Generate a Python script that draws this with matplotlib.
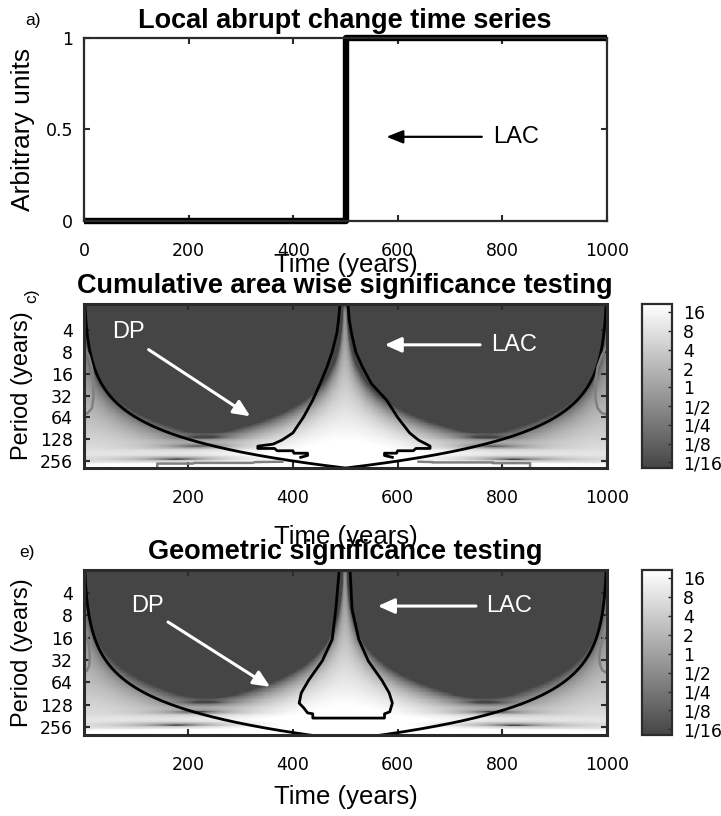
import numpy as np
import matplotlib.pyplot as plt
from matplotlib.colors import LinearSegmentedColormap
from matplotlib.ticker import NullLocator

# local abrupt change series
step_years = [0, 500, 500, 1000]
step_values = [0, 0, 1, 1]
n_years = 1000

time_ticks = [200, 400, 600, 800, 1000]
period_ticks = [4, 8, 16, 32, 64, 128, 256]
cbar_levels = [-4, -3, -2, -1, 0, 1, 2, 3, 4]
cbar_labels = ['1/16', '1/8', '1/4', '1/2', '1', '2', '4', '8', '16']

# cone of influence: period reached per year of distance from the ends
coi_ratio_c = 0.64
coi_ratio_e = 0.76

# significance contours, cumulative area wise test
sig_c_left_time = [490, 487, 484, 475, 465, 452, 438, 420, 400, 379, 362, 333, 333, 365, 370, 400, 402, 428, 428, 415]
sig_c_left_period = [1.7, 3, 4.4, 8, 13, 22, 37, 64, 105, 132, 150, 160, 172, 172, 185, 185, 200, 200, 215, 228]
sig_c_right_time = [505, 508, 512, 520, 533, 550, 579, 600, 623, 640, 655, 662, 662, 635, 630, 600, 598, 575, 575, 590]
sig_c_right_period = [1.7, 3, 4.4, 8, 13, 22, 37, 64, 105, 132, 150, 160, 172, 172, 185, 185, 200, 200, 215, 228]

# significance contour, geometric test
sig_e_time = [489, 482, 475, 456, 430, 416, 412, 421, 428, 438, 438, 575, 575, 585, 590, 584, 570, 544, 526, 513, 509]
sig_e_period = [1.8, 6.6, 17, 33, 60, 89, 122, 142, 165, 170, 194, 194, 170, 160, 122, 89, 60, 33, 17, 6.6, 1.8]

# pointwise contours (grey)
edge_l_time = [2, 10, 16, 19, 19, 16, 8, 2]
edge_r_time = [998, 990, 982, 978, 978, 982, 990, 998]
edge_period = [7, 9, 13, 20, 35, 48, 56, 58]
edge_e_l_time = [2, 8, 11, 12, 11, 7, 2]
edge_e_r_time = [998, 992, 987, 985, 987, 991, 998]
edge_e_period = [14, 17, 22, 30, 38, 44, 47]
base_l_time = [141, 141, 209, 212, 323, 328, 380]
base_l_period = [330, 278, 278, 272, 272, 265, 262]
base_r_time = [640, 667, 667, 782, 782, 853, 853]
base_r_period = [262, 265, 268, 268, 274, 274, 330]

# morlet wavelet power of the series
years = np.arange(1, n_years + 1)
series = np.interp(years, step_years[1:3], step_values[1:3]).round()
x = series - series.mean()
npad = 2048
xp = np.zeros(npad)
xp[:n_years] = x
k = 2 * np.pi * np.fft.fftfreq(npad)
fx = np.fft.fft(xp)
w0 = 6.0
fourier_factor = 4 * np.pi / (w0 + np.sqrt(2 + w0 ** 2))
periods = np.geomspace(1.6, 340, 220)
power = np.empty((len(periods), n_years))
for i, p in enumerate(periods):
    s = p / fourier_factor
    psi = np.sqrt(2 * np.pi * s) * np.pi ** -0.25 * np.exp(-0.5 * (s * k - w0) ** 2) * (k > 0)
    power[i] = np.abs(np.fft.ifft(fx * psi)[:n_years]) ** 2
gain = 2.5
field = np.log2(power / x.var() * gain + 1e-12)
edge_dist = np.minimum(years, n_years - years + 1)

cmap = LinearSegmentedColormap.from_list('greys', ['#454545', '#ffffff'])
vmin, vmax = -4.3, 4.45

plt.rcParams['font.family'] = ['Liberation Sans', 'DejaVu Sans']
tick_font = dict(family='DejaVu Sans', size=12.5)
edge = '#2b2b2b'

fig = plt.figure(figsize=(7.21, 8.16), dpi=100)
W, H = 721, 816


def box(l, t, r, b):
    return [l / W, 1 - b / H, (r - l) / W, (b - t) / H]


def style(ax, lw):
    for sp in ax.spines.values():
        sp.set_linewidth(lw)
        sp.set_color(edge)
    ax.tick_params(direction='in', length=4, width=1.5, color=edge,
                   top=True, right=True, pad=8)
    for lab in ax.get_xticklabels() + ax.get_yticklabels():
        lab.set_fontfamily(tick_font['family'])
        lab.set_fontsize(tick_font['size'])
    ax.tick_params(axis='x', pad=15)


# a) time series
ax = fig.add_axes(box(84, 38, 607, 221))
ax.plot(step_years, step_values, color='black', lw=4.6, clip_on=False, solid_capstyle='butt')
ax.set_xlim(0, 1000)
ax.set_ylim(0, 1)
ax.set_xticks([0, 200, 400, 600, 800, 1000])
ax.set_yticks([0, 0.5, 1])
ax.set_yticklabels(['0', '0.5', '1'])
style(ax, 1.6)
ax.annotate('', xy=(573, 0.46), xytext=(766, 0.46),
            arrowprops=dict(arrowstyle='-|>,head_length=1.0,head_width=0.4', color='black', lw=1.6))
ax.text(782, 0.46, 'LAC', fontsize=17, va='center', ha='left')
ax.set_ylabel('Arbitrary units', fontsize=19)
ax.yaxis.set_label_coords(-0.094, 0.5)
ax.set_xlabel('Time (years)', fontsize=18.5, va='center')
ax.xaxis.set_label_coords(0.5, -0.24)
fig.text(345 / W, 1 - 21 / H, 'Local abrupt change time series', fontsize=19.5,
         fontweight='bold', ha='center', va='center')
fig.text(33 / W, 1 - 21 / H, 'a)', fontsize=12.5, ha='center', va='center')


def wavelet_panel(top, bottom, ylim, coi_ratio, title, tag, tag_rot, tag_xy,
                  dp_xy, dp_tail, dp_tip, lac_tip, lac_tail, label_y):
    ax = fig.add_axes(box(84, top, 607, bottom))
    mesh = ax.pcolormesh(years, periods, field, cmap=cmap, vmin=vmin, vmax=vmax,
                         shading='nearest', rasterized=True)
    ax.plot(years, coi_ratio * edge_dist, color='black', lw=2.0)
    ax.set_yscale('log', base=2)
    ax.set_xlim(1, 1000)
    ax.set_ylim(ylim[1], ylim[0])
    ax.set_yticks(period_ticks)
    ax.set_yticklabels([str(p) for p in period_ticks])
    ax.yaxis.set_minor_locator(NullLocator())
    ax.set_xticks(time_ticks)
    style(ax, 2.2)
    ax.text(dp_xy[0], dp_xy[1], 'DP', color='white', fontsize=17, ha='left', va='center')
    arrow = dict(arrowstyle='-|>,head_length=1.0,head_width=0.45', color='white', lw=2.2)
    ax.annotate('', xy=dp_tip, xytext=dp_tail, arrowprops=arrow)
    ax.annotate('', xy=(lac_tip, lac_tail[1]), xytext=lac_tail, arrowprops=arrow)
    ax.text(lac_tail[0] + 15, lac_tail[1], 'LAC', color='white', fontsize=17, ha='left', va='center')
    ax.set_ylabel('Period (years)', fontsize=17)
    ax.yaxis.set_label_coords(-0.0975, 0.5)
    ax.set_xlabel('Time (years)', fontsize=18.5, va='center')
    ax.xaxis.set_label_coords(0.5, label_y)
    fig.text(345 / W, 1 - (top - 18) / H, title, fontsize=19.5, fontweight='bold',
             ha='center', va='center')
    fig.text(tag_xy[0] / W, 1 - tag_xy[1] / H, tag, fontsize=12.5, rotation=tag_rot,
             ha='center', va='center')

    cax = fig.add_axes(box(642, top, 672, bottom))
    cb = fig.colorbar(mesh, cax=cax, ticks=cbar_levels)
    cb.ax.set_yticklabels(cbar_labels)
    cb.outline.set_linewidth(1.6)
    cb.outline.set_edgecolor(edge)
    cb.ax.tick_params(direction='in', length=3, width=1.0, color=edge, pad=8)
    for lab in cb.ax.get_yticklabels():
        lab.set_fontfamily(tick_font['family'])
        lab.set_fontsize(tick_font['size'])
    return ax


# c) cumulative area wise
ax_c = wavelet_panel(304, 468, (1.75, 320), coi_ratio_c,
                     'Cumulative area wise significance testing', 'c)', 90, (32, 296),
                     (54, 4.3), (120, 7.1), (323, 65), 570, (763, 6.4), -0.42)
ax_c.plot(sig_c_left_time, sig_c_left_period, color='black', lw=2.0)
ax_c.plot(sig_c_right_time, sig_c_right_period, color='black', lw=2.0)
for t, p in [(edge_l_time, edge_period), (edge_r_time, edge_period),
             (base_l_time, base_l_period), (base_r_time, base_r_period)]:
    ax_c.plot(t, p, color='#808080', lw=1.8)

# e) geometric
ax_e = wavelet_panel(570, 735, (1.96, 328), coi_ratio_e,
                     'Geometric significance testing', 'e)', 0, (27, 553),
                     (91, 6.0), (157, 9.4), (361, 77), 557, (755, 6.0), -0.376)
ax_e.plot(sig_e_time, sig_e_period, color='black', lw=2.0)
for t in (edge_e_l_time, edge_e_r_time):
    ax_e.plot(t, edge_e_period, color='#808080', lw=1.8)

fig.savefig('out.png', dpi=100)
